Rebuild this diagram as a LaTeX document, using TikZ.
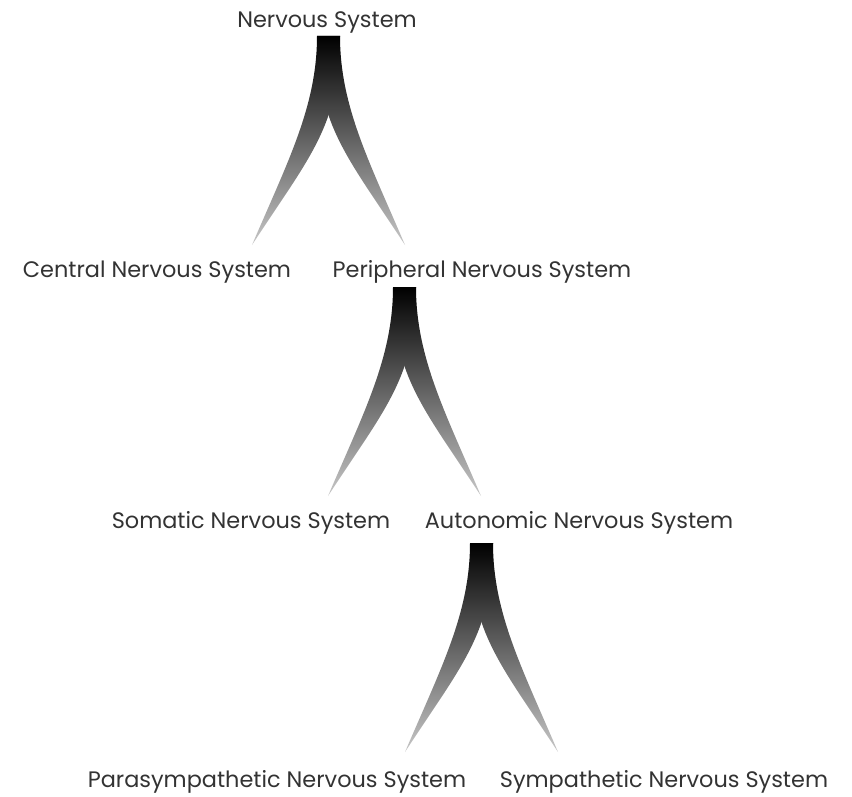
\documentclass[tikz,border=0pt]{standalone}
\usepackage{fontspec}
\setmainfont{Poppins}
\usetikzlibrary{positioning}
\definecolor{labelgray}{HTML}{333333}

\tikzset{
  label text/.style={font=\fontsize{22.4}{24}\selectfont, text=labelgray, inner sep=0pt, anchor=base},
  fork/.pic={
    % left branch first, right one lies over it
    \shade[top color=black, middle color=black, bottom color=black!22]
      (0,0) .. controls (0,70) and (-29,125) .. (-65,209)
      .. controls (-7,120) and (23,90) .. (23,0) -- cycle;
    \shade[top color=black, bottom color=black!22]
      (23,0) .. controls (23,70) and (52,125) .. (88,209)
      .. controls (30,120) and (0,90) .. (0,0) -- cycle;
  }
}

\begin{document}
\begin{tikzpicture}[x=1pt,y=-1pt]
\useasboundingbox (0,0) rectangle (852,797);

\node[label text] (ns) at (327,28) {Nervous System};
\node[label text] (cns) at (157,277) {Central Nervous System};
\node[label text] (pns) at (482,277) {Peripheral Nervous System};
\node[label text] (sns) at (251,528) {Somatic Nervous System};
\node[label text] (ans) at (579,528) {Autonomic Nervous System};
\node[label text] (para) at (277,787) {Parasympathetic Nervous System};
\node[label text] (symp) at (664,787) {Sympathetic Nervous System};

\pic at (317,36) {fork};
\pic at (393,287) {fork};
\pic at (470,543) {fork};
\end{tikzpicture}
\end{document}
